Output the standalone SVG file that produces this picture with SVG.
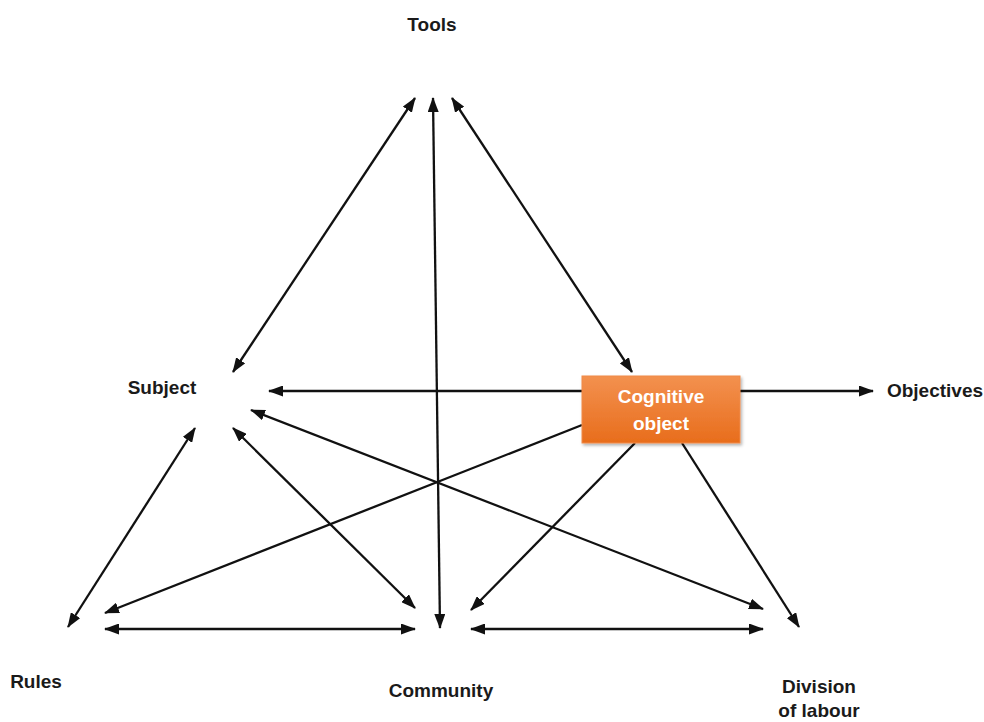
<svg xmlns="http://www.w3.org/2000/svg" width="984" height="722" viewBox="0 0 984 722">
<style>
.lbl{font-family:"Liberation Sans",Arial,sans-serif;font-weight:bold;font-size:19px;fill:#1a1a1a;text-anchor:middle}
.box-t{font-family:"Liberation Sans",Arial,sans-serif;font-weight:bold;font-size:19px;fill:#ffffff;text-anchor:middle}
.c{stroke:#111;stroke-width:2.3;fill:none}
.d{marker-start:url(#ah);marker-end:url(#ah)}
.s{marker-end:url(#ah)}
</style>
<defs>
<marker id="ah" viewBox="0 0 15 11" refX="14" refY="5.5" markerWidth="15" markerHeight="11" orient="auto-start-reverse" markerUnits="userSpaceOnUse">
<path d="M0,0 L15,5.5 L0,11 z" fill="#111"/>
</marker>
<linearGradient id="og" x1="0" y1="0" x2="0" y2="1">
<stop offset="0" stop-color="#f3914f"/>
<stop offset="1" stop-color="#e86d1c"/>
</linearGradient>
<filter id="sh" x="-10%" y="-10%" width="125%" height="130%">
<feDropShadow dx="1.5" dy="2" stdDeviation="1.5" flood-color="#000" flood-opacity="0.3"/>
</filter>
</defs>
<rect width="984" height="722" fill="#ffffff"/>
<g id="connectors">
<line class="c d" x1="415" y1="98" x2="233" y2="372"/>
<line class="c d" x1="433" y1="98" x2="440" y2="628"/>
<line class="c d" x1="452" y1="98" x2="632" y2="372"/>
<line class="c d" x1="269" y1="391" x2="873" y2="391"/>
<line class="c d" x1="195" y1="428" x2="68" y2="627"/>
<line class="c d" x1="233" y1="428" x2="415" y2="608"/>
<line class="c d" x1="251" y1="410" x2="763" y2="609"/>
<line class="c s" x1="582" y1="425" x2="105" y2="613"/>
<line class="c s" x1="635" y1="443" x2="471" y2="610"/>
<line class="c s" x1="682" y1="443" x2="799" y2="627"/>
<line class="c d" x1="105" y1="629" x2="415" y2="629"/>
<line class="c d" x1="471" y1="629" x2="763" y2="629"/>
</g>
<g id="tools"><text class="lbl" x="432" y="31">Tools</text></g>
<g id="subject"><text class="lbl" x="162" y="394">Subject</text></g>
<g id="objectives"><text class="lbl" x="935" y="397">Objectives</text></g>
<g id="rules"><text class="lbl" x="36" y="688">Rules</text></g>
<g id="community"><text class="lbl" x="441" y="697">Community</text></g>
<g id="division"><text class="lbl" x="819" y="693">Division</text><text class="lbl" x="819" y="717">of labour</text></g>
<g id="cognitive-object">
<rect x="582" y="376" width="158" height="67" fill="url(#og)" stroke="#f08a48" stroke-width="1" filter="url(#sh)"/>
<text class="box-t" x="661" y="403">Cognitive</text>
<text class="box-t" x="661" y="430">object</text>
</g>
</svg>
